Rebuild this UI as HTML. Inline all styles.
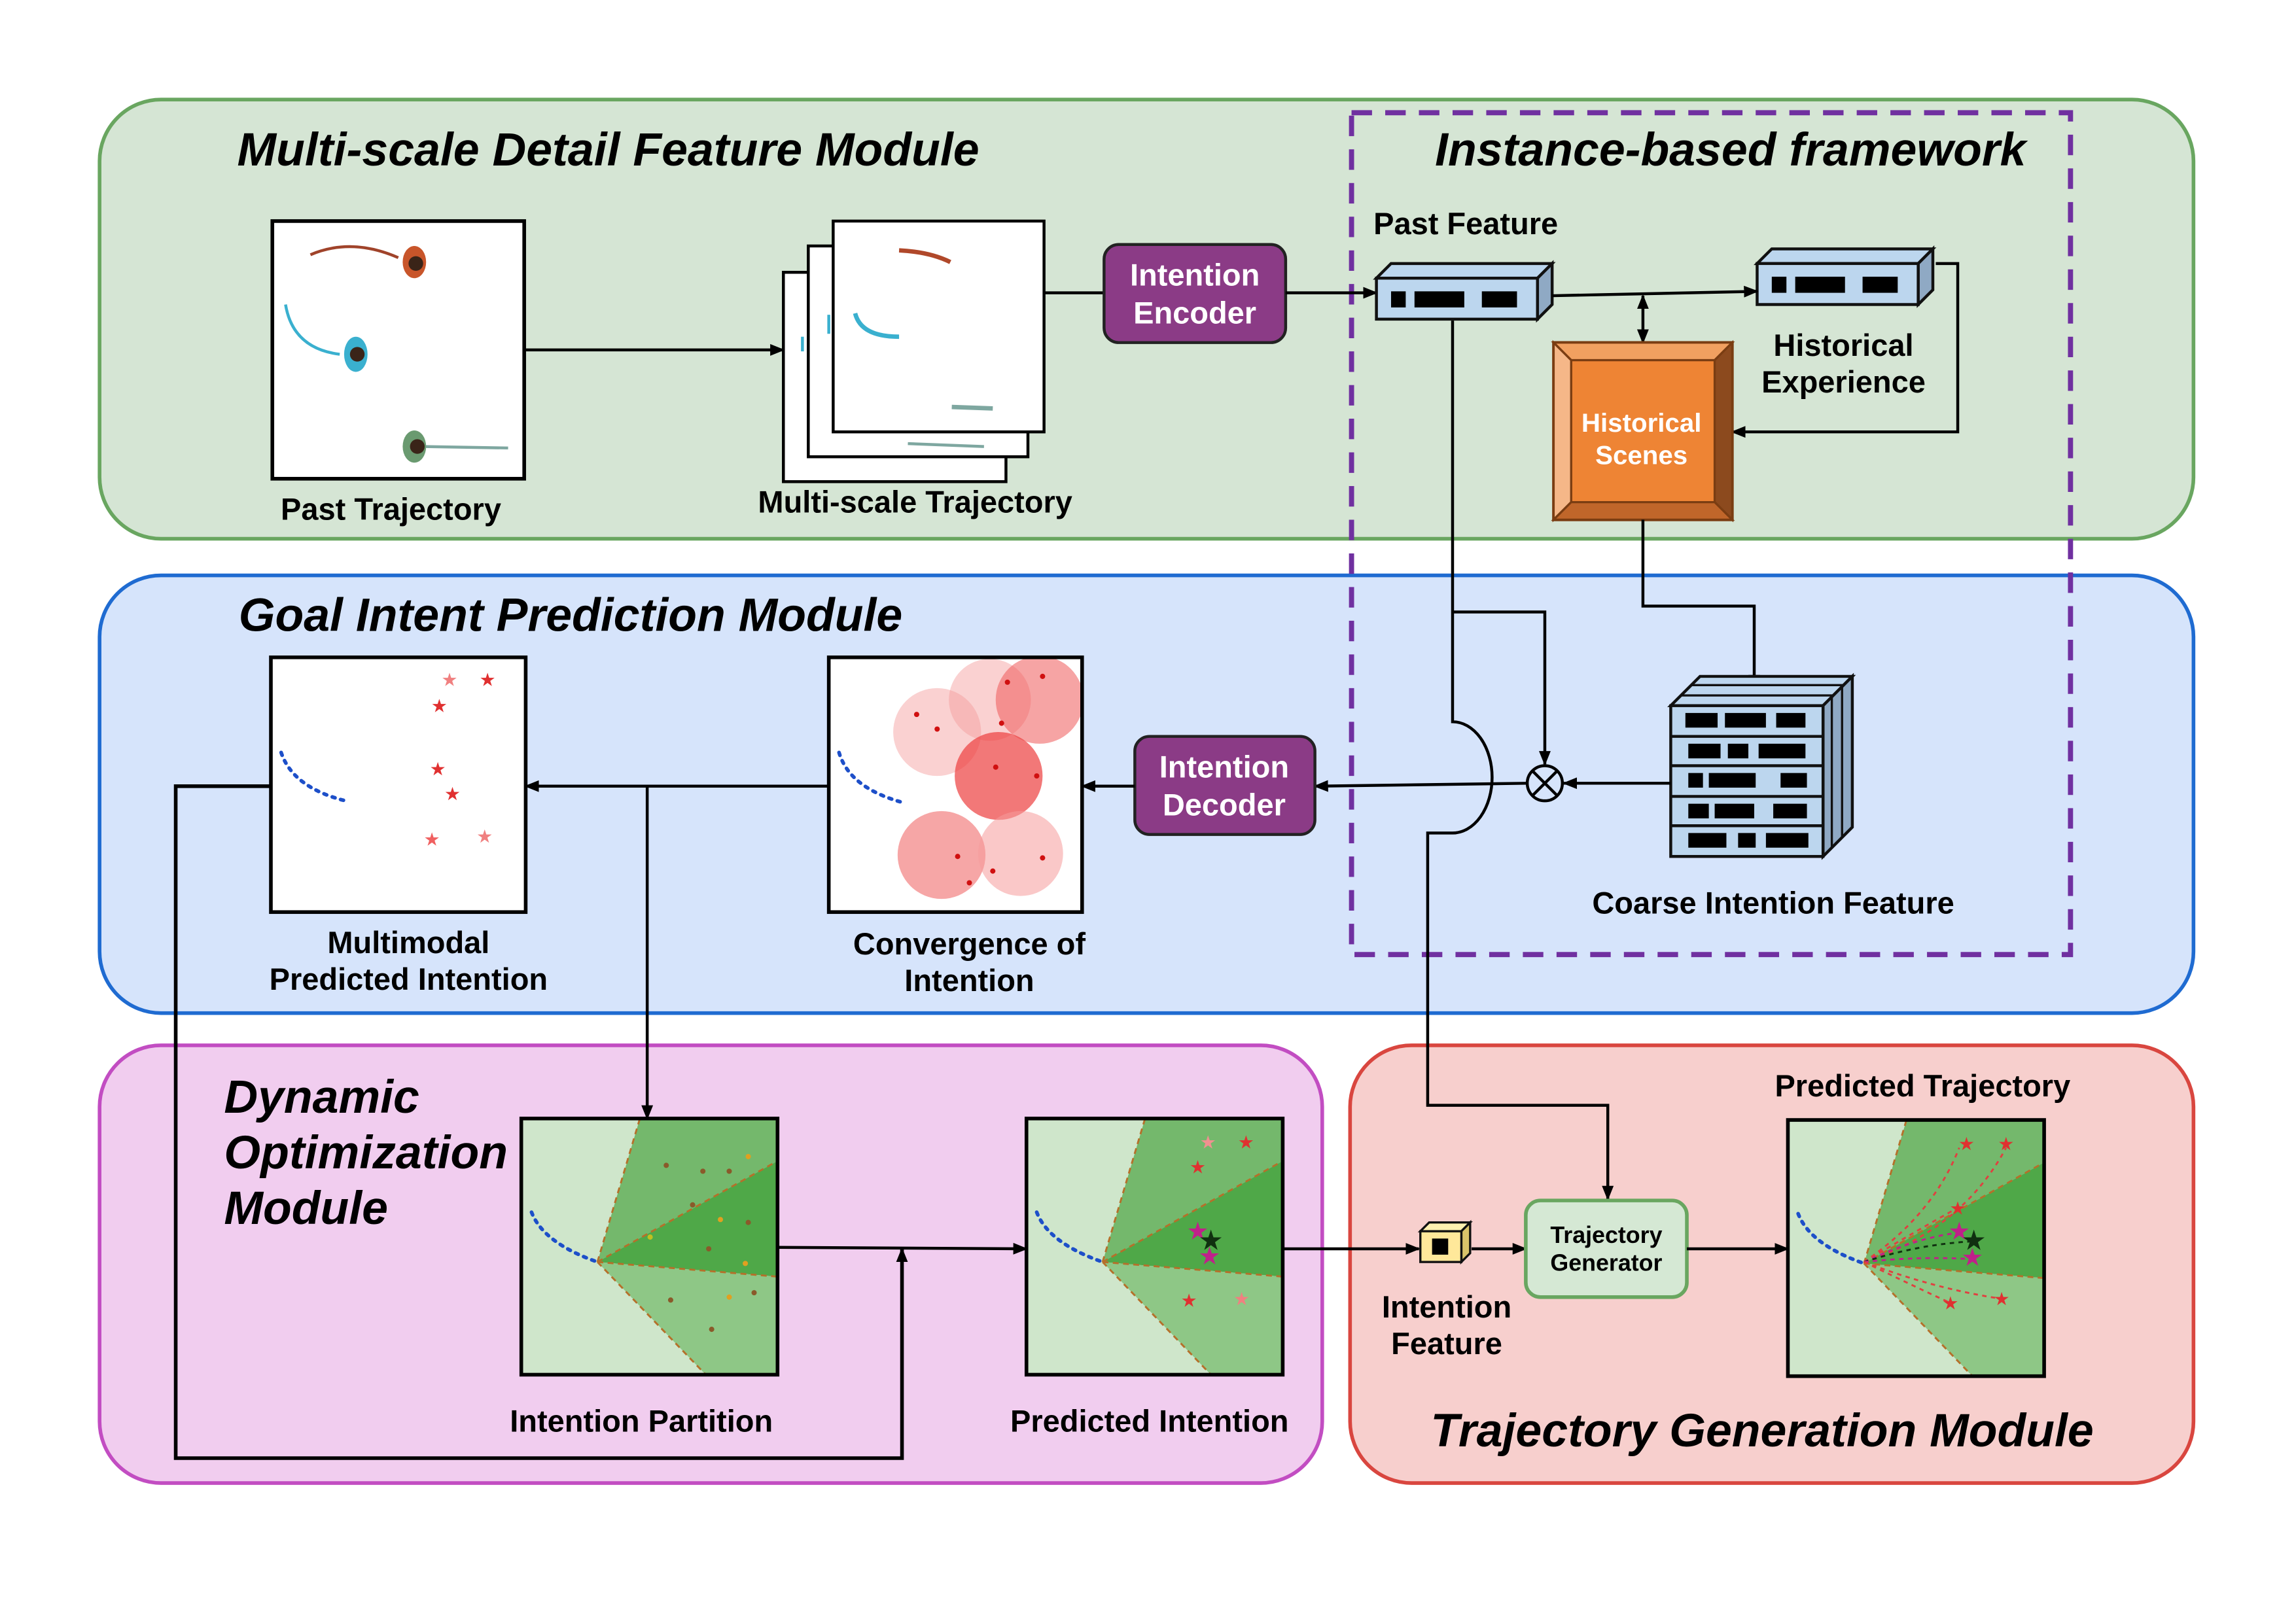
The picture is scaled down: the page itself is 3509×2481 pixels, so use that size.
<!DOCTYPE html>
<html><head><meta charset="utf-8"><style>
html,body{margin:0;padding:0;background:#fff;}
svg{display:block;}
text{font-family:"Liberation Sans",sans-serif;font-weight:bold;}
</style></head><body>
<svg width="3509" height="2481" viewBox="0 0 1568 1108.6" preserveAspectRatio="none" xmlns="http://www.w3.org/2000/svg">
<defs>
<marker id="ar" markerWidth="10" markerHeight="8" refX="9" refY="4" orient="auto" markerUnits="userSpaceOnUse"><path d="M0,0 L10,4 L0,8 z" fill="#000"/></marker>
<marker id="arS" markerWidth="10" markerHeight="8" refX="1" refY="4" orient="auto" markerUnits="userSpaceOnUse"><path d="M10,0 L0,4 L10,8 z" fill="#000"/></marker>
<g id="flat">
<polygon points="0,10 10,0 120,0 110,10" fill="#bcd6ee" stroke="#111" stroke-width="2"/>
<polygon points="110,10 120,0 120,28 110,38" fill="#8fa9c4" stroke="#111" stroke-width="2"/>
<rect x="0" y="10" width="110" height="28" fill="#bcd6ee" stroke="#111" stroke-width="2"/>
<rect x="10" y="19" width="10" height="11" fill="#000"/><rect x="26" y="19" width="34" height="11" fill="#000"/><rect x="72" y="19" width="24" height="11" fill="#000"/>
</g>
<g id="wedge">
<rect x="0" y="0" width="175" height="175" fill="#cfe6cb"/>
<polygon points="52,98 81,0 175,0 175,29" fill="#74b86c"/>
<polygon points="52,98 175,29 175,108" fill="#4fa848"/>
<polygon points="52,98 175,108 175,175 126,175" fill="#8ec786"/>
<g stroke="#b5702a" stroke-width="1.3" stroke-dasharray="4,3" fill="none">
<line x1="52" y1="98" x2="81" y2="0"/><line x1="52" y1="98" x2="175" y2="29"/><line x1="52" y1="98" x2="175" y2="108"/><line x1="52" y1="98" x2="126" y2="175"/></g>
<path d="M7,64 Q15,85 52,98" fill="none" stroke="#1d4fc9" stroke-width="2.5" stroke-dasharray="2,4" stroke-linecap="round"/>
<rect x="0" y="0" width="175" height="175" fill="none" stroke="#000" stroke-width="2.5"/>
</g>
</defs>

<rect x="68" y="68" width="1430" height="300" rx="42" fill="#d5e5d4" stroke="#69a660" stroke-width="2.5"/>
<rect x="68" y="393" width="1430" height="299" rx="42" fill="#d6e4fb" stroke="#1f6bd1" stroke-width="2.5"/>
<rect x="68" y="714" width="835" height="299" rx="42" fill="#f1cdef" stroke="#c24dc2" stroke-width="2.5"/>
<rect x="922" y="714" width="576" height="299" rx="42" fill="#f7cfcd" stroke="#d9463f" stroke-width="2.5"/>
<rect x="923" y="77" width="491" height="575" fill="none" stroke="#7030a0" stroke-width="3.5" stroke-dasharray="14,9"/>

<g font-style="italic" font-size="32" fill="#000">
<text x="162" y="113">Multi-scale Detail Feature Module</text>
<text x="980" y="113">Instance-based framework</text>
<text x="163" y="431">Goal Intent Prediction Module</text>
<text x="153" y="760">Dynamic</text><text x="153" y="798">Optimization</text><text x="153" y="836">Module</text>
<text x="977" y="988">Trajectory Generation Module</text>
</g>

<rect x="186" y="151" width="172" height="176" fill="#fff" stroke="#000" stroke-width="2.5"/>
<path d="M212,174 Q240,162 272,176" fill="none" stroke="#a0432a" stroke-width="2"/>
<ellipse cx="283" cy="179" rx="8" ry="11" fill="#c8552a"/><circle cx="284" cy="180" r="5" fill="#3a2418"/>
<path d="M195,208 Q200,238 232,242" fill="none" stroke="#3ab0cf" stroke-width="2"/>
<ellipse cx="243" cy="242" rx="8" ry="12" fill="#3ab0cf"/><circle cx="244" cy="242" r="5" fill="#3a2418"/>
<line x1="290" y1="305" x2="347" y2="306" stroke="#7ea7a0" stroke-width="2"/>
<ellipse cx="283" cy="305" rx="8" ry="11" fill="#6a9a70"/><circle cx="285" cy="305" r="5" fill="#3a2418"/>
<text x="267" y="355" font-size="21" text-anchor="middle">Past Trajectory</text>

<rect x="535" y="186" width="152" height="143" fill="#fff" stroke="#000" stroke-width="2"/>
<rect x="552" y="168" width="150" height="144" fill="#fff" stroke="#000" stroke-width="2"/>
<rect x="569" y="151" width="144" height="144" fill="#fff" stroke="#000" stroke-width="2"/>
<line x1="548" y1="230" x2="548" y2="240" stroke="#3ab0cf" stroke-width="2"/>
<line x1="566" y1="215" x2="566" y2="228" stroke="#3ab0cf" stroke-width="2"/>
<line x1="620" y1="303" x2="672" y2="305" stroke="#7ea7a0" stroke-width="2"/>
<path d="M614,171 Q635,172 649,179" fill="none" stroke="#b0482a" stroke-width="3"/>
<path d="M584,214 Q588,230 614,230" fill="none" stroke="#3ab0cf" stroke-width="3"/>
<line x1="650" y1="278" x2="678" y2="279" stroke="#7ea7a0" stroke-width="3"/>
<text x="625" y="350" font-size="21" text-anchor="middle">Multi-scale Trajectory</text>
<line x1="358" y1="239" x2="535" y2="239" stroke="#000" stroke-width="2" marker-end="url(#ar)"/>

<line x1="713" y1="200" x2="754" y2="200" stroke="#000" stroke-width="2"/>
<rect x="754" y="167" width="124" height="67" rx="10" fill="#8b3b86" stroke="#222" stroke-width="2"/>
<text x="816" y="195" font-size="21" fill="#fff" text-anchor="middle">Intention</text>
<text x="816" y="221" font-size="21" fill="#fff" text-anchor="middle">Encoder</text>
<line x1="878" y1="200" x2="940" y2="200" stroke="#000" stroke-width="2" marker-end="url(#ar)"/>

<use href="#flat" x="940" y="180"/>
<text x="938" y="160" font-size="21">Past Feature</text>
<use href="#flat" x="1200" y="170"/>
<text x="1259" y="243" font-size="21" text-anchor="middle">Historical</text>
<text x="1259" y="268" font-size="21" text-anchor="middle">Experience</text>
<line x1="1060" y1="202" x2="1200" y2="199" stroke="#000" stroke-width="2" marker-end="url(#ar)"/>
<line x1="1122" y1="202" x2="1122" y2="234" stroke="#000" stroke-width="2" marker-start="url(#arS)" marker-end="url(#ar)"/>
<polyline points="1322,180 1337,180 1337,295 1183,295" fill="none" stroke="#000" stroke-width="2" marker-end="url(#ar)"/>

<rect x="1061" y="234" width="122" height="121" fill="#ee8434" stroke="#7a3d12" stroke-width="2"/>
<polygon points="1061,234 1183,234 1171,246 1073,246" fill="#f1a060" stroke="#7a3d12" stroke-width="1.5"/>
<polygon points="1061,234 1073,246 1073,343 1061,355" fill="#f5b788" stroke="#7a3d12" stroke-width="1.5"/>
<polygon points="1183,234 1171,246 1171,343 1183,355" fill="#8c4a1e" stroke="#7a3d12" stroke-width="1.5"/>
<polygon points="1061,355 1073,343 1171,343 1183,355" fill="#c0662a" stroke="#7a3d12" stroke-width="1.5"/>
<text x="1121" y="295" font-size="18" fill="#fff" text-anchor="middle">Historical</text>
<text x="1121" y="317" font-size="18" fill="#fff" text-anchor="middle">Scenes</text>

<polyline points="1122,355 1122,414 1198,414 1198,470" fill="none" stroke="#000" stroke-width="2" marker-end="url(#ar)"/>

<g>
<polygon points="1141,482 1161,462 1265,462 1245,482" fill="#bcd6ee" stroke="#111" stroke-width="2"/>
<polygon points="1245,482 1265,462 1265,565 1245,585" fill="#8fa9c4" stroke="#111" stroke-width="2"/>
<line x1="1251" y1="476" x2="1251" y2="579" stroke="#111" stroke-width="1.5"/><line x1="1258" y1="469" x2="1258" y2="572" stroke="#111" stroke-width="1.5"/>
<line x1="1148" y1="475" x2="1252" y2="475" stroke="#111" stroke-width="1.5"/><line x1="1155" y1="468" x2="1259" y2="468" stroke="#111" stroke-width="1.5"/>
<rect x="1141" y="482" width="104" height="103" fill="#bcd6ee" stroke="#111" stroke-width="2"/>
<line x1="1141" y1="503" x2="1245" y2="503" stroke="#111" stroke-width="2"/><line x1="1141" y1="523" x2="1245" y2="523" stroke="#111" stroke-width="2"/>
<line x1="1141" y1="544" x2="1245" y2="544" stroke="#111" stroke-width="2"/><line x1="1141" y1="564" x2="1245" y2="564" stroke="#111" stroke-width="2"/>
<g fill="#000">
<rect x="1151" y="487" width="22" height="10"/><rect x="1178" y="487" width="28" height="10"/><rect x="1213" y="487" width="20" height="10"/>
<rect x="1153" y="508" width="22" height="10"/><rect x="1180" y="508" width="14" height="10"/><rect x="1201" y="508" width="32" height="10"/>
<rect x="1153" y="528" width="10" height="10"/><rect x="1167" y="528" width="32" height="10"/><rect x="1216" y="528" width="18" height="10"/>
<rect x="1153" y="549" width="14" height="10"/><rect x="1171" y="549" width="27" height="10"/><rect x="1211" y="549" width="23" height="10"/>
<rect x="1153" y="569" width="26" height="10"/><rect x="1187" y="569" width="12" height="10"/><rect x="1206" y="569" width="29" height="10"/>
</g></g>
<text x="1211" y="624" font-size="21" text-anchor="middle">Coarse Intention Feature</text>

<line x1="1141" y1="535" x2="1068" y2="535" stroke="#000" stroke-width="2" marker-end="url(#ar)"/>
<circle cx="1055" cy="535" r="12" fill="none" stroke="#000" stroke-width="2"/>
<line x1="1047" y1="527" x2="1063" y2="543" stroke="#000" stroke-width="2"/><line x1="1063" y1="527" x2="1047" y2="543" stroke="#000" stroke-width="2"/>
<polyline points="992,418 1055,418 1055,522" fill="none" stroke="#000" stroke-width="2" marker-end="url(#ar)"/>
<path d="M992,219 L992,493 A27,38 0 0 1 992,569 L975,569 L975,755 L1098,755 L1098,819" fill="none" stroke="#000" stroke-width="2" marker-end="url(#ar)"/>
<line x1="1043" y1="535" x2="898" y2="537" stroke="#000" stroke-width="2" marker-end="url(#ar)"/>

<rect x="775" y="503" width="123" height="67" rx="10" fill="#8b3b86" stroke="#222" stroke-width="2"/>
<text x="836" y="531" font-size="21" fill="#fff" text-anchor="middle">Intention</text>
<text x="836" y="557" font-size="21" fill="#fff" text-anchor="middle">Decoder</text>
<line x1="775" y1="537" x2="739" y2="537" stroke="#000" stroke-width="2" marker-end="url(#ar)"/>

<rect x="566" y="449" width="173" height="174" fill="#fff"/>
<g>
<circle cx="640" cy="500" r="30" fill="#f59a9a" fill-opacity="0.45"/>
<circle cx="676" cy="478" r="28" fill="#f59a9a" fill-opacity="0.45"/>
<circle cx="710" cy="478" r="30" fill="#ef5a5a" fill-opacity="0.55"/>
<circle cx="682" cy="530" r="30" fill="#ec3e3e" fill-opacity="0.7"/>
<circle cx="643" cy="584" r="30" fill="#f06a6a" fill-opacity="0.6"/>
<circle cx="697" cy="583" r="29" fill="#f59a9a" fill-opacity="0.55"/>
</g>
<g fill="#d01010"><circle cx="626" cy="488" r="1.8"/><circle cx="640" cy="498" r="1.8"/><circle cx="688" cy="466" r="1.8"/><circle cx="712" cy="462" r="1.8"/><circle cx="684" cy="494" r="1.8"/><circle cx="680" cy="524" r="1.8"/><circle cx="708" cy="530" r="1.8"/><circle cx="654" cy="585" r="1.8"/><circle cx="662" cy="603" r="1.8"/><circle cx="678" cy="595" r="1.8"/><circle cx="712" cy="586" r="1.8"/></g>
<path d="M573,514 Q580,538 616,548" fill="none" stroke="#1d4fc9" stroke-width="2.5" stroke-dasharray="2,4" stroke-linecap="round"/>
<rect x="566" y="449" width="173" height="174" fill="none" stroke="#000" stroke-width="2.5"/>
<text x="662" y="652" font-size="21" text-anchor="middle">Convergence of</text>
<text x="662" y="677" font-size="21" text-anchor="middle">Intention</text>

<line x1="566" y1="537" x2="359" y2="537" stroke="#000" stroke-width="2" marker-end="url(#ar)"/>
<line x1="442" y1="537" x2="442" y2="764" stroke="#000" stroke-width="2" marker-end="url(#ar)"/>

<rect x="185" y="449" width="174" height="174" fill="#fff" stroke="#000" stroke-width="2.5"/>
<path d="M192,514 Q200,538 236,547" fill="none" stroke="#1d4fc9" stroke-width="2.5" stroke-dasharray="2,4" stroke-linecap="round"/>
<g fill="#e03030" font-size="11" text-anchor="middle"><text x="307" y="468" fill="#f08080">★</text><text x="333" y="468">★</text><text x="300" y="486">★</text><text x="299" y="529">★</text><text x="309" y="546">★</text><text x="295" y="577" fill="#f06060">★</text><text x="331" y="575" fill="#f08080">★</text></g>
<text x="279" y="651" font-size="21" text-anchor="middle">Multimodal</text>
<text x="279" y="676" font-size="21" text-anchor="middle">Predicted Intention</text>

<polyline points="185,537 120,537 120,996 616,996 616,853" fill="none" stroke="#000" stroke-width="2.5" marker-end="url(#ar)"/>

<use href="#wedge" x="356" y="764"/>
<g fill="#8a5a2a"><circle cx="455" cy="796" r="1.8"/><circle cx="480" cy="800" r="1.8"/><circle cx="498" cy="800" r="1.8"/><circle cx="511" cy="790" r="1.8" fill="#e0a020"/><circle cx="473" cy="823" r="1.8"/><circle cx="492" cy="833" r="1.8" fill="#e0a020"/><circle cx="511" cy="835" r="1.8"/><circle cx="444" cy="845" r="1.8" fill="#c0c020"/><circle cx="484" cy="853" r="1.8"/><circle cx="509" cy="863" r="1.8" fill="#e0a020"/><circle cx="458" cy="888" r="1.8"/><circle cx="498" cy="886" r="1.8" fill="#e0a020"/><circle cx="515" cy="883" r="1.8"/><circle cx="486" cy="908" r="1.8"/></g>
<text x="438" y="978" font-size="21" text-anchor="middle">Intention Partition</text>
<line x1="530" y1="852" x2="701" y2="853" stroke="#000" stroke-width="2" marker-end="url(#ar)"/>

<use href="#wedge" x="701" y="764"/>
<g fill="#e03030" font-size="11" text-anchor="middle"><text x="825" y="784" fill="#f09090">★</text><text x="851" y="784">★</text><text x="818" y="801">★</text><text x="812" y="892">★</text><text x="848" y="891" fill="#f08080">★</text></g>
<text x="818" y="846" font-size="15" fill="#c0208a" text-anchor="middle">★</text>
<text x="827" y="853" font-size="17" fill="#103010" text-anchor="middle">★</text>
<text x="826" y="863" font-size="15" fill="#c0208a" text-anchor="middle">★</text>
<text x="785" y="978" font-size="21" text-anchor="middle">Predicted Intention</text>
<line x1="876" y1="853" x2="969" y2="853" stroke="#000" stroke-width="2" marker-end="url(#ar)"/>

<polygon points="970,841 976,835 1004,835 998,841" fill="#fff1b0" stroke="#111" stroke-width="1.5"/>
<polygon points="998,841 1004,835 1004,856 998,862" fill="#d9c36a" stroke="#111" stroke-width="1.5"/>
<rect x="970" y="841" width="28" height="21" fill="#ffe89a" stroke="#111" stroke-width="1.5"/>
<rect x="978" y="846" width="11" height="11" fill="#000"/>
<text x="988" y="900" font-size="21" text-anchor="middle">Intention</text>
<text x="988" y="925" font-size="21" text-anchor="middle">Feature</text>
<line x1="1005" y1="853" x2="1042" y2="853" stroke="#000" stroke-width="2" marker-end="url(#ar)"/>

<rect x="1042" y="820" width="110" height="66" rx="10" fill="#d5e8d4" stroke="#69a660" stroke-width="2.5"/>
<text x="1097" y="849" font-size="16" text-anchor="middle">Trajectory</text>
<text x="1097" y="868" font-size="16" text-anchor="middle">Generator</text>
<line x1="1152" y1="853" x2="1221" y2="853" stroke="#000" stroke-width="2" marker-end="url(#ar)"/>

<use href="#wedge" x="1221" y="765"/>
<g fill="none" stroke-width="1.3" stroke-dasharray="3,3">
<path d="M1273,862 Q1320,830 1338,784" stroke="#e04040"/>
<path d="M1273,862 Q1340,840 1370,784" stroke="#e04040"/>
<path d="M1273,862 Q1310,840 1337,825" stroke="#e04040"/>
<path d="M1273,862 Q1310,845 1338,842" stroke="#c0208a"/>
<path d="M1273,862 Q1310,850 1346,848" stroke="#103010"/>
<path d="M1273,862 Q1310,858 1346,860" stroke="#c0208a"/>
<path d="M1273,862 Q1310,880 1332,890" stroke="#e04040"/>
<path d="M1273,862 Q1320,880 1366,887" stroke="#e04040"/>
</g>
<g fill="#e03030" font-size="11" text-anchor="middle"><text x="1343" y="785">★</text><text x="1370" y="785">★</text><text x="1337" y="829">★</text><text x="1332" y="894">★</text><text x="1367" y="891">★</text></g>
<text x="1338" y="846" font-size="15" fill="#c0208a" text-anchor="middle">★</text>
<text x="1348" y="853" font-size="17" fill="#103010" text-anchor="middle">★</text>
<text x="1347" y="864" font-size="15" fill="#c0208a" text-anchor="middle">★</text>
<text x="1313" y="749" font-size="21" text-anchor="middle">Predicted Trajectory</text>
</svg>
</body></html>
